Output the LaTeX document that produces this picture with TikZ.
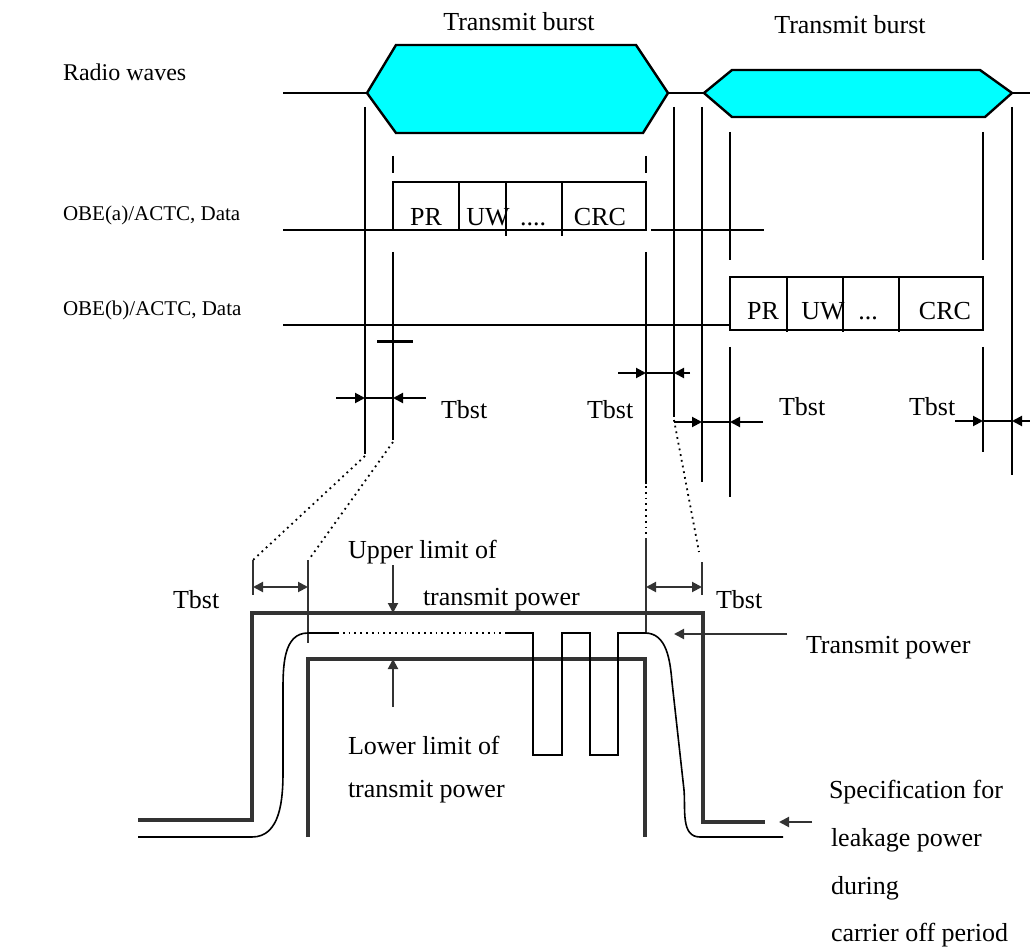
\documentclass[tikz,border=0pt]{standalone}
\usepackage{fontspec}
\setmainfont{Liberation Serif}
\usepackage{xcolor}
\usepackage{tikz}
\usetikzlibrary{arrows.meta}
\definecolor{burstcolor}{HTML}{00FFFF}
\definecolor{powergray}{HTML}{333333}

\begin{document}
\begin{tikzpicture}[x=0.5pt,y=-0.5pt,
    line width=1pt,
    lbl/.style={font=\fontsize{13}{15}\selectfont, inner sep=0pt, anchor=west},
    rowlbl/.style={font=\fontsize{12}{14}\selectfont, inner sep=0pt, anchor=west},
    cell/.style={font=\fontsize{13}{15}\selectfont, inner sep=0pt, anchor=base},
    burst/.style={draw, fill=burstcolor, line width=1.2pt, line join=miter},
    limit/.style={draw=powergray, line width=2.3pt, line join=miter},
    curve/.style={draw=black, line width=0.8pt},
    dots/.style={dotted, line width=0.9pt},
    tip/.style={-{Triangle[length=5pt,width=5pt]}},
    tbst/.style={{Triangle[length=5pt,width=5pt]}-{Triangle[length=5pt,width=5pt]}, draw=powergray},
  ]
  \useasboundingbox (0,0) rectangle (1030,947);

  % row labels
  \node[rowlbl] (radio) at (62,72) {Radio waves};
  \node[rowlbl, font=\fontsize{10.5}{13}\selectfont] (obea) at (62,215) {OBE(a)/ACTC, Data};
  \node[rowlbl, font=\fontsize{10.5}{13}\selectfont] (obeb) at (62,310) {OBE(b)/ACTC, Data};

  % radio waves
  \node[lbl, anchor=center] (burst1) at (519,22) {Transmit burst};
  \node[lbl, anchor=center] (burst2) at (850,25) {Transmit burst};
  \draw (283,93) -- (367,93);
  \draw[burst] (367,93) -- (396,45) -- (636,45) -- (668,93) -- (643,133) -- (396,133) -- cycle;
  \draw (668,93) -- (704,93);
  \draw[burst] (704,93) -- (732,70) -- (980,70) -- (1012,93) -- (985,117) -- (732,117) -- cycle;
  \draw (1012,93) -- (1030,93);

  % OBE(a) data
  \draw (283,230) -- (393,230);
  \draw (651,230) -- (764,230);
  \draw (393,182) rectangle (646,230);
  \draw (459,182) -- (459,230);
  \draw (506,182) -- (506,236);
  \draw (562,182) -- (562,236);
  \node[cell] (pra) at (426,226) {PR};
  \node[cell] (uwa) at (488,226) {UW};
  \node[cell] (dota) at (533,226) {....};
  \node[cell] (crca) at (600,226) {CRC};

  % OBE(b) data
  \draw (283,325) -- (730,325);
  \draw (730,277) rectangle (983,330);
  \draw (787,277) -- (787,332);
  \draw (843,277) -- (843,332);
  \draw (899,277) -- (899,332);
  \node[cell] (prb) at (763,320) {PR};
  \node[cell] (uwb) at (823,320) {UW};
  \node[cell] (dotb) at (868,320) {...};
  \node[cell] (crcb) at (945,320) {CRC};

  % timing lines
  \draw (365,107) -- (365,454);
  \draw (393,156) -- (393,173);
  \draw (393,252) -- (393,440);
  \draw[line width=1.5pt] (377,342) -- (413,342);
  \draw (646,156) -- (646,173);
  \draw (646,252) -- (646,484);
  \draw (674,107) -- (674,417);
  \draw (702,107) -- (702,482);
  \draw (730,132) -- (730,260);
  \draw (730,347) -- (730,497);
  \draw (983,132) -- (983,260);
  \draw (983,347) -- (983,452);
  \draw (1012,107) -- (1012,475);

  % Tbst markers
  \draw[tip] (336,398) -- (365,398);
  \draw (365,398) -- (393,398);
  \draw[tip] (426,398) -- (393,398);
  \node[lbl] (tbst1) at (440,410) {Tbst};
  \draw[tip] (618,373) -- (646,373);
  \draw (646,373) -- (674,373);
  \draw[tip] (690,373) -- (674,373);
  \node[lbl] (tbst2) at (586,410) {Tbst};
  \draw[tip] (674,422) -- (702,422);
  \draw (702,422) -- (730,422);
  \draw[tip] (763,422) -- (730,422);
  \node[lbl] (tbst3) at (778,407) {Tbst};
  \draw[tip] (955,421) -- (983,421);
  \draw (983,421) -- (1012,421);
  \draw[tip] (1030,421) -- (1012,421);
  \node[lbl] (tbst4) at (908,407) {Tbst};

  % zoom lines
  \draw[dots] (365,456) -- (253,560);
  \draw[dots] (393,442) -- (310,558);
  \draw[dots] (646,486) -- (646,535);
  \draw[dots] (674,420) -- (699,552);

  % power profile
  \draw[draw=powergray] (253,560) -- (253,595);
  \draw[draw=powergray] (308,560) -- (308,643);
  \draw[tbst] (253,587) -- (308,587);
  \node[lbl] (tbst5) at (172,600) {Tbst};
  \draw[draw=powergray] (646,538) -- (646,633);
  \draw[draw=powergray] (702,562) -- (702,595);
  \draw[tbst] (646,587) -- (702,587);
  \node[lbl] (tbst6) at (715,600) {Tbst};

  \draw[limit] (138,820) -- (252,820) -- (252,613) -- (703,613) -- (703,822) -- (765,822);
  \draw[limit] (308,837) -- (308,659) -- (645,659) -- (645,837);

  \draw[curve] (138,837) -- (252,837) to[out=0,in=-90] (283,772) -- (283,692)
    to[out=90,in=180] (308,633) -- (337,633);
  \draw[dots] (337,633) -- (507,633);
  \draw[curve] (507,633) -- (533,633) -- (533,755) -- (562,755) -- (562,633) -- (590,633)
    -- (590,755) -- (618,755) -- (618,633) -- (645,633) to[out=0,in=95] (672,682)
    -- (684,790) to[out=-85,in=180] (700,837) -- (783,837);

  \node[lbl] (upper1) at (347,552) {Upper limit of};
  \node[lbl] (upper2) at (422,600) {transmit power};
  \draw[tip, draw=powergray, fill=powergray] (393,565) -- (393,613);
  \node[lbl] (lower1) at (347,745) {Lower limit of};
  \node[lbl] (lower2) at (347,792) {transmit power};
  \draw[tip, draw=powergray, fill=powergray] (393,707) -- (393,659);
  \node[lbl] (txpower) at (805,648) {Transmit power};
  \draw[tip, draw=powergray, fill=powergray] (787,634) -- (674,634);
  \node[lbl] (leak1) at (828,792) {Specification for};
  \node[lbl] (leak2) at (830,840) {leakage power};
  \node[lbl] (leak3) at (830,888) {during};
  \node[lbl] (leak4) at (830,935) {carrier off period};
  \draw[tip, draw=powergray, fill=powergray] (812,822) -- (779,822);
\end{tikzpicture}
\end{document}
